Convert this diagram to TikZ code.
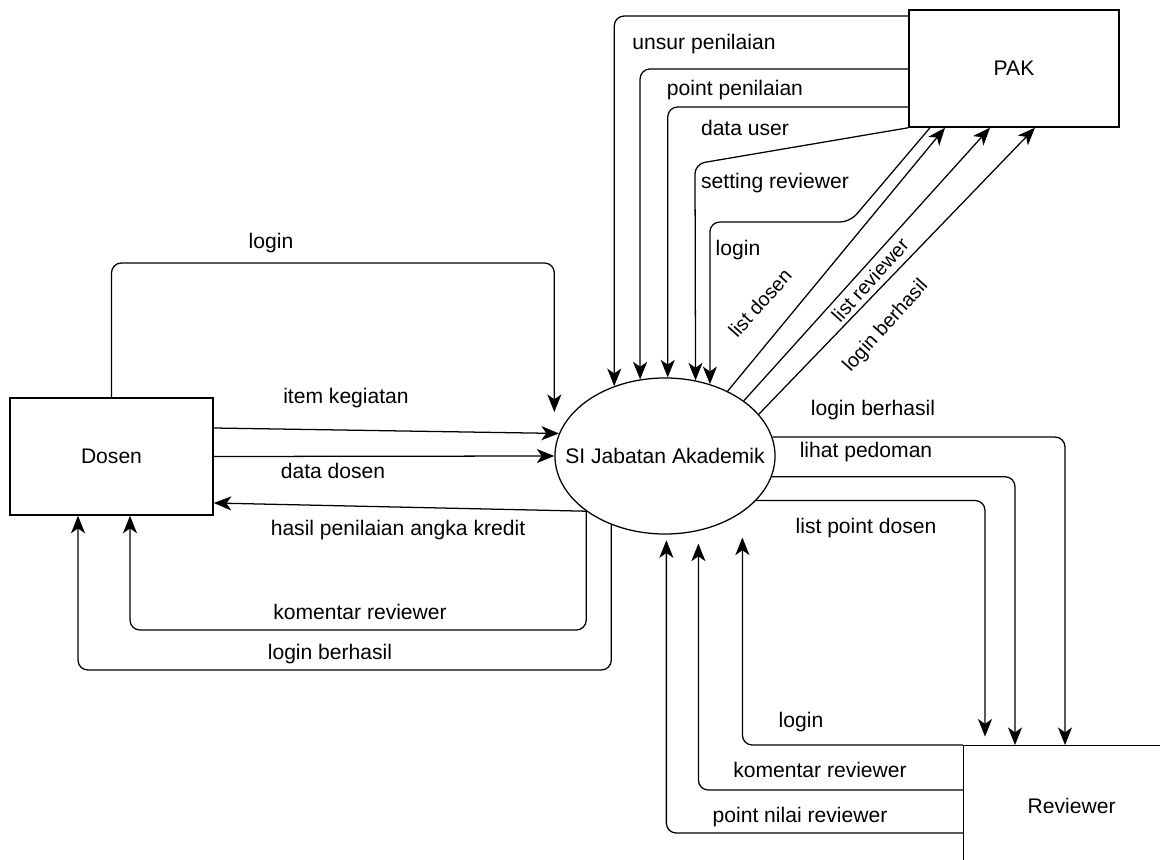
\documentclass[tikz,border=0pt]{standalone}
\usepackage{fontspec}
\setmainfont{Liberation Sans}
\usetikzlibrary{shapes,arrows.meta}

\begin{document}
\begin{tikzpicture}[x=0.025cm,y=-0.025cm,
    every node/.style={font=\fontsize{15}{18}\selectfont},
    box/.style={draw, rectangle, line width=0.9pt, minimum height=2.93cm},
    flow/.style={-{Stealth[length=12.5pt,width=10pt,inset=3.5pt]}, line width=0.9pt, rounded corners=7pt}]
  \useasboundingbox (0,0) rectangle (1160,860);
  \clip (0,0) rectangle (1160,860);

  \node[box, minimum width=5.08cm] (dosen) at (111.5,456.5) {Dosen};
  \node[box, minimum width=5.25cm] (pak) at (1014,68.5) {PAK};
  \node[box, minimum width=5.4cm, minimum height=3cm, anchor=north west] (reviewer) at (963,745) {Reviewer};
  \node[ellipse, draw, line width=0.9pt, minimum width=5.5cm, minimum height=3.9cm, inner xsep=-16pt, inner ysep=0pt] (sija) at (665,456) {SI Jabatan Akademik};

  \foreach \x/\y/\lbl/\name in {271/243/la/login, 346/398/lb/item kegiatan, 333/471/lc/data dosen,
      398/530/ld/hasil penilaian angka kredit, 360/612/le/komentar reviewer, 330/654/lf/login berhasil,
      704/44/lg/unsur penilaian, 735/90/lh/point penilaian, 745/128/li/data user,
      775/183/lj/setting reviewer, 738/250/lk/login, 873/410/ll/login berhasil,
      866/452/lm/lihat pedoman, 866/528/ln/list point dosen, 801/722/lo/login,
      820/770/lp/komentar reviewer, 800/817/lq/point nilai reviewer}{
    \node (\lbl) at (\x,\y) {\name}; }
  \foreach \x/\y/\lbl/\name in {760/303/ra/list dosen, 870/280/rb/list reviewer, 886/326/rc/login berhasil}{
    \node[rotate=48, font=\fontsize{14}{16}\selectfont] (\lbl) at (\x,\y) {\name}; }

  % Dosen
  \draw[flow] (dosen.north) |- (sija.west |- 0,263) -- (sija.west |- 0,412);
  \draw[flow] (dosen.east |- 0,428) -- (sija.168);
  \draw[flow] (dosen.east) -- (sija.west);
  \draw[flow] (sija.215) -- (dosen.east |- 0,503);
  \draw[flow] (sija.215) |- (130,630) -- (130,0 |- dosen.south);
  \draw[flow] (sija.232) |- (78,670) -- (78,0 |- dosen.south);

  % PAK
  \draw[flow] (pak.west |- 0,16) -| (sija.126);
  \draw[flow] (pak.west |- 0,69) -| (sija.108);
  \draw[flow] (pak.west |- 0,107) -| (sija.88);
  \draw[flow] (pak.south west) -- (695,164) -- (sija.68);
  \draw[flow] (930,0 |- pak.south) -- (850,222) -| (sija.58);
  \draw[flow] (sija.46) -- (945,0 |- pak.south);
  \draw[flow] (sija.35) -- (990,0 |- pak.south);
  \draw[flow] (sija.24) -- (1035,0 |- pak.south);

  % Reviewer
  \draw[flow] (sija.10) -| (1065,0 |- reviewer.north);
  \draw[flow] (sija.-11) -| (1015,0 |- reviewer.north);
  \draw[flow, shorten >=6pt] (sija.-26) -| (985,0 |- reviewer.north);
  \draw[flow, shorten >=18pt] (reviewer.north west) -| (sija.-36);
  \draw[flow, shorten >=9pt] (reviewer.west |- 0,790) -| (sija.-66);
  \draw[flow, shorten >=4pt] (reviewer.west |- 0,833) -| (sija.-89);
\end{tikzpicture}
\end{document}
